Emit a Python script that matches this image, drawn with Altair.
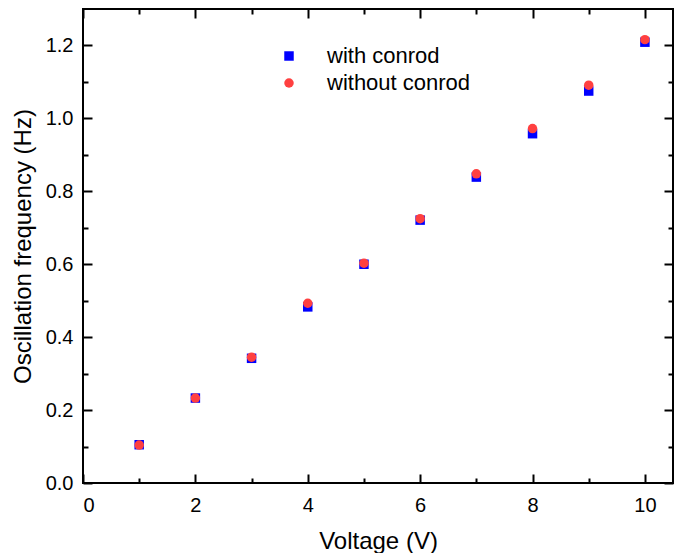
import altair as alt
import pandas as pd

voltage = [1, 2, 3, 4, 5, 6, 7, 8, 9, 10]
with_conrod = [0.105, 0.233, 0.342, 0.483, 0.600, 0.721, 0.839, 0.958, 1.075, 1.209]
without_conrod = [0.104, 0.233, 0.345, 0.493, 0.603, 0.725, 0.848, 0.972, 1.091, 1.216]
series_names = ["with conrod", "without conrod"]
x_major = [0, 2, 4, 6, 8, 10]
x_all = [0, 1, 2, 3, 4, 5, 6, 7, 8, 9, 10]
y_major = [0.0, 0.2, 0.4, 0.6, 0.8, 1.0, 1.2]
y_all = [0.0, 0.1, 0.2, 0.3, 0.4, 0.5, 0.6, 0.7, 0.8, 0.9, 1.0, 1.1, 1.2]

df = pd.DataFrame({
    "voltage": voltage + voltage,
    "freq": with_conrod + without_conrod,
    "series": [series_names[0]] * len(voltage) + [series_names[1]] * len(voltage),
})

W, H = 590, 474
FONT = "Liberation Sans"
xs = alt.Scale(domain=[0, 10.5], nice=False, zero=False)
ys = alt.Scale(domain=[0, 1.3], nice=False, zero=False)

x_tick_size = {"condition": {"test": "datum.value % 2 !== 0", "value": 5}, "value": 9}
y_tick_size = {"condition": {"test": "round(datum.value * 10) % 2 !== 0", "value": 5}, "value": 9}

main_x = alt.Axis(orient="bottom", values=x_major, ticks=False, domain=False, grid=False,
                  labelFontSize=20, labelPadding=12, labelColor="black", labelFont=FONT,
                  title="Voltage (V)", titleFontSize=24, titleFontWeight="normal",
                  titleColor="black", titleFont=FONT, titlePadding=14)
main_y = alt.Axis(orient="left", values=y_major, format=".1f", ticks=False, domain=False, grid=False,
                  labelFontSize=20, labelPadding=10, labelColor="black", labelFont=FONT,
                  title="Oscillation frequency (Hz)", titleFontSize=24, titleFontWeight="normal",
                  titleColor="black", titleFont=FONT, titlePadding=10)

def tick_axis(orient, off, vals, size):
    return alt.Axis(orient=orient, offset=off, values=vals, labels=False, domain=False, grid=False,
                    title="", tickSize=size, tickWidth=2, tickColor="black")

leg = alt.Legend(orient="none", legendX=195, legendY=36, title="", labelFontSize=22,
                 labelFont=FONT, labelColor="black", symbolSize=90, rowPadding=5,
                 labelOffset=27, padding=0, symbolStrokeWidth=0)

ticks1 = alt.Chart(df).mark_point(opacity=0).encode(
    x=alt.X("voltage:Q", scale=xs, axis=tick_axis("top", -H, x_all, x_tick_size)),
    y=alt.Y("freq:Q", scale=ys, axis=tick_axis("right", -W, y_all, y_tick_size)),
)
ticks2 = alt.Chart(df).mark_point(opacity=0).encode(
    x=alt.X("voltage:Q", scale=xs, axis=tick_axis("bottom", -H, x_all, x_tick_size)),
    y=alt.Y("freq:Q", scale=ys, axis=tick_axis("left", -W, y_all, y_tick_size)),
)

points = alt.Chart(df).mark_point(filled=True, size=90, opacity=1).encode(
    x=alt.X("voltage:Q", scale=xs, axis=main_x),
    y=alt.Y("freq:Q", scale=ys, axis=main_y),
    color=alt.Color("series:N", scale=alt.Scale(domain=series_names, range=["#0000FF", "#FF4040"]), legend=leg),
    shape=alt.Shape("series:N", scale=alt.Scale(domain=series_names, range=["square", "circle"]), legend=leg),
)

chart = alt.layer(ticks1, ticks2, points).resolve_axis(
    x="independent", y="independent"
).properties(
    width=W, height=H, autosize="none",
    padding={"left": 75, "top": 1, "right": 5, "bottom": 70},
).configure(font=FONT).configure_view(stroke="black", strokeWidth=2)

chart.save("out.html", embed_options={"renderer": "svg", "actions": False})
